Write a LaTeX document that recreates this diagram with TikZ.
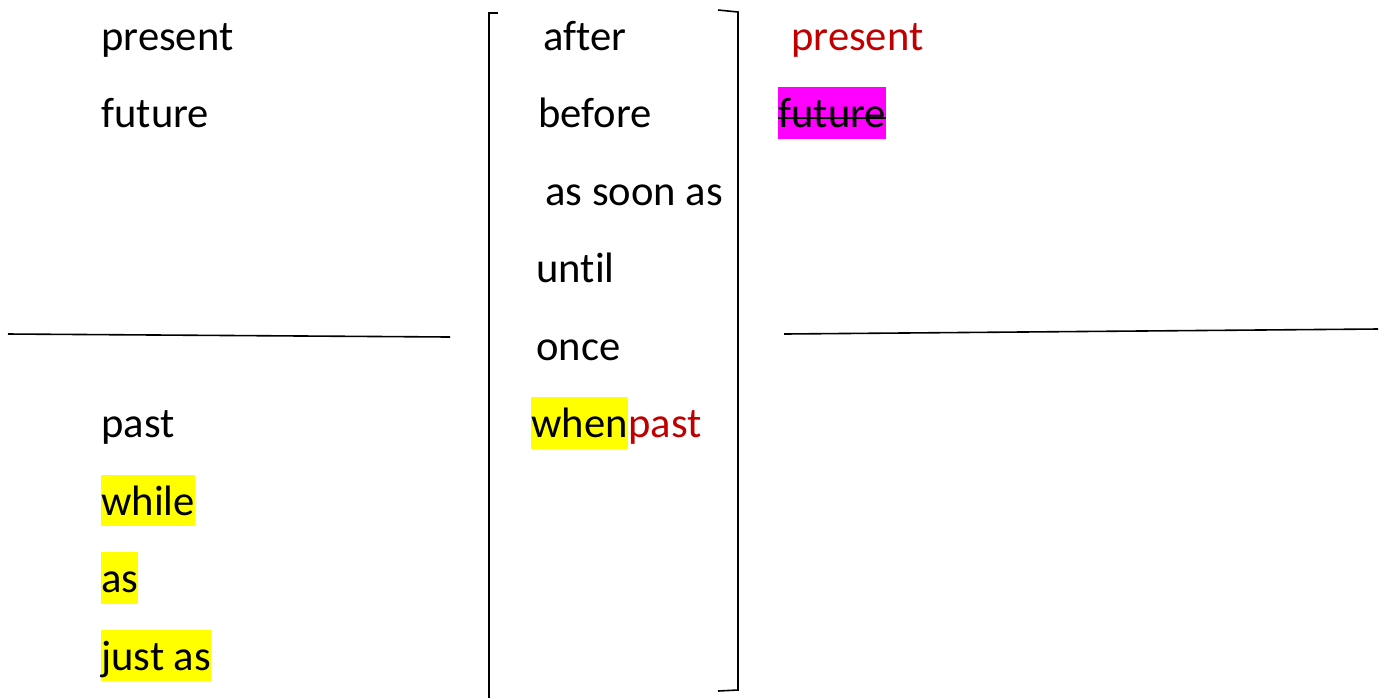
\documentclass[tikz,border=0pt]{standalone}
\usepackage{fontspec}
\setmainfont[Ligatures=NoCommon]{Carlito}
\usetikzlibrary{calc}
\definecolor{wordred}{HTML}{C00000}
\definecolor{hlmagenta}{HTML}{FF00FF}
\definecolor{hlyellow}{HTML}{FFFF00}
\newcommand{\rowy}[1]{50+77.5*#1}

\begin{document}
\begin{tikzpicture}[x=0.5pt,y=-0.5pt,
  word/.style={anchor=base west,inner sep=0pt,text height=20.2pt,text depth=5.7pt,
    font=\fontsize{21.3pt}{25pt}\selectfont},
  hl/.style={word,fill=hlyellow},
  rule/.style={line width=0.8pt}]
  \useasboundingbox (0,0) rectangle (1386,698);
  % left column
  \node[word] (present) at (101,{\rowy{0}}) {present};
  \node[word] (future) at (101,{\rowy{1}}) {future};
  \node[word] (past) at (101,{\rowy{5}}) {past};
  \node[hl] (while) at (101,{\rowy{6}}) {while};
  \node[hl] (as) at (101,{\rowy{7}}) {as};
  \node[hl] (justas) at (101,{\rowy{8}}) {just as};
  % middle column
  \node[word] (after) at (543,{\rowy{0}}) {after};
  \node[word] (before) at (538,{\rowy{1}}) {before};
  \node[word] (soon) at (545,{\rowy{2}}) {as soon as};
  \node[word] (until) at (536,{\rowy{3}}) {until};
  \node[word] (once) at (536,{\rowy{4}}) {once};
  \node[hl] (when) at (531,{\rowy{5}}) {when};
  \node[word,text=wordred] (whenpast) at (when.base east) {past};
  % right column
  \node[word,text=wordred] (rpresent) at (791,{\rowy{0}}) {present};
  \node[word,fill=hlmagenta] (rfuture) at (778,{\rowy{1}}) {future};
  \draw[line width=1pt] ($(rfuture.base west)+(0,-10)$) -- ($(rfuture.base east)+(0,-10)$);
  % dividers
  \coordinate (l1) at (8,334);
  \coordinate (l2) at (450,337);
  \coordinate (r1) at (784,334);
  \coordinate (r2) at (1378,329);
  \draw[rule] (l1) -- (l2);
  \draw[rule] (r1) -- (r2);
  % brackets
  \draw[rule] (498,13) -- (489,13) -- (489,698);
  \draw[rule] (718,10) -- (738,12) -- (738,690) -- (718,691);
\end{tikzpicture}
\end{document}
